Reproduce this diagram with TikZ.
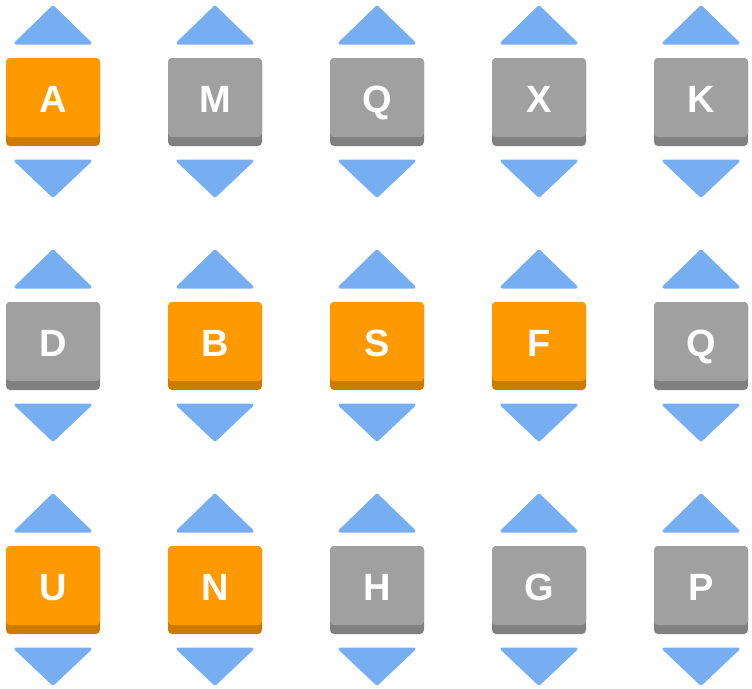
\documentclass[tikz,border=0pt]{standalone}
\usepackage{fontspec}
\setmainfont{Liberation Sans}
\usepackage{tikz}
\usetikzlibrary{positioning, calc}
\definecolor{naranja}{RGB}{255,153,0}
\definecolor{naranjaosc}{RGB}{204,122,0}
\definecolor{gris}{RGB}{160,160,160}
\definecolor{grisosc}{RGB}{128,128,128}
\definecolor{azulcito}{RGB}{119,174,242}
\tikzset{
	tecla/.style={minimum width=94pt, minimum height=88pt, inner sep=0pt, rounded corners=4pt},
	letra/.style={text=white, anchor=base, inner sep=0pt, font=\bfseries\fontsize{38}{38}\selectfont},
	flecha/.style={fill=azulcito, draw=azulcito, line width=3pt, line join=round}
}
\begin{document}
\begin{tikzpicture}[x=1pt, y=-1pt]
	\useasboundingbox (0,0) rectangle (752,688);

	\foreach \letra/\col/\fila/\c in {A/0/0/naranja, M/1/0/gris, Q/2/0/gris, X/3/0/gris, K/4/0/gris,
		D/0/1/gris, B/1/1/naranja, S/2/1/naranja, F/3/1/naranja, Q/4/1/gris,
		U/0/2/naranja, N/1/2/naranja, H/2/2/gris, G/3/2/gris, P/4/2/gris} {
		\coordinate (c-\col-\fila) at (53+162*\col, 102+244*\fila);
		% sombra y tecla
		\fill [\c osc, rounded corners=4pt] ($(c-\col-\fila)+(-47,-44)$) rectangle ($(c-\col-\fila)+(47,44)$);
		\node [tecla, fill=\c, minimum height=79pt, anchor=north] (k-\col-\fila) at ($(c-\col-\fila)+(0,-44)$) {};
		\node [letra] (t-\col-\fila) at ($(c-\col-\fila)+(0,10)$) {\letra};
		% flechas
		\draw [flecha] ($(c-\col-\fila)+(0,-95)$) -- ($(c-\col-\fila)+(37,-59)$) -- ($(c-\col-\fila)+(-37,-59)$) -- cycle;
		\draw [flecha] ($(c-\col-\fila)+(0,94)$) -- ($(c-\col-\fila)+(37,59)$) -- ($(c-\col-\fila)+(-37,59)$) -- cycle;
	}

\end{tikzpicture}
\end{document}
